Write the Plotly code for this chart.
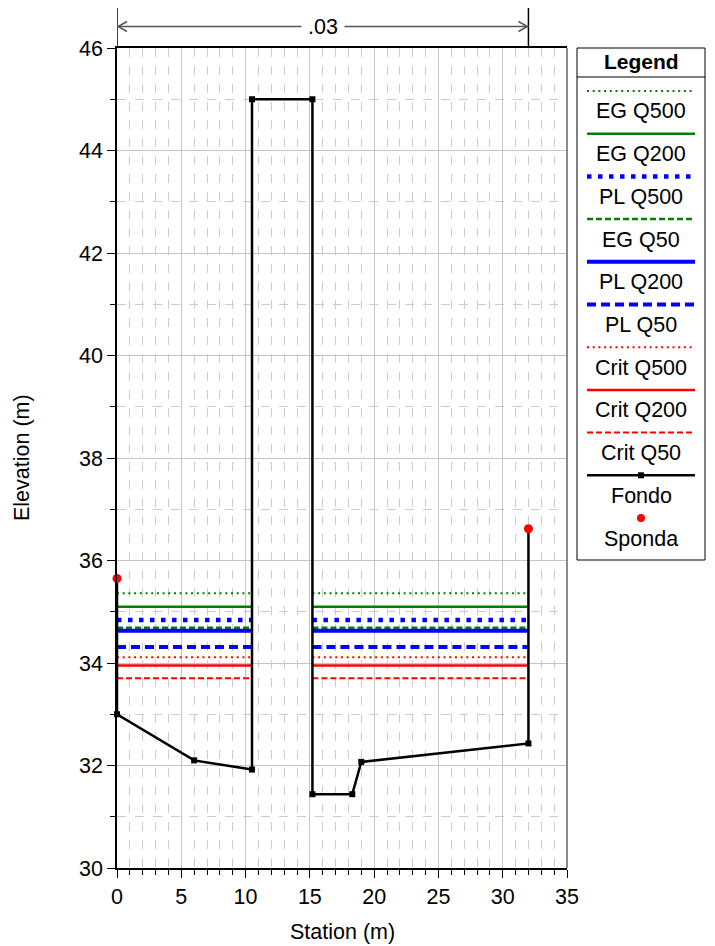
import plotly.graph_objects as go

# ---------------- data ----------------
station_fondo = [0.0, 0.0, 6.0, 10.5, 10.5, 15.2, 15.2, 18.3, 19.0, 32.0, 32.0]
elev_fondo = [35.65, 33.0, 32.1, 31.92, 45.0, 45.0, 31.44, 31.44, 32.07, 32.43, 36.62]

station_sponda = [0.0, 32.0]
elev_sponda = [35.65, 36.62]

flow_left = [0.0, 10.5]
flow_right = [15.2, 32.0]

profile_names = ["EG Q500", "EG Q200", "PL Q500", "EG Q50", "PL Q200",
                 "PL Q50", "Crit Q500", "Crit Q200", "Crit Q50"]
profile_elev = [35.36, 35.10, 34.84, 34.69, 34.63, 34.31, 34.11, 33.95, 33.70]

manning_stations = [0.0, 32.0]
manning_label = ".03"

x_tickvals = [0, 5, 10, 15, 20, 25, 30, 35]
y_tickvals = [30, 32, 34, 36, 38, 40, 42, 44, 46]

# ---------------- styles ----------------
styles = {
    "EG Q500": dict(color="#008000", width=2, dash="2px,3.7px"),
    "EG Q200": dict(color="#008000", width=2.5, dash="solid"),
    "PL Q500": dict(color="#0000ff", width=4.5, dash="4.5px,6.5px"),
    "EG Q50": dict(color="#008000", width=2.5, dash="6px,3px"),
    "PL Q200": dict(color="#0000ff", width=4, dash="solid"),
    "PL Q50": dict(color="#0000ff", width=4, dash="9px,5px"),
    "Crit Q500": dict(color="#ff0000", width=2, dash="2px,3.7px"),
    "Crit Q200": dict(color="#ff0000", width=2.5, dash="solid"),
    "Crit Q50": dict(color="#ff0000", width=2, dash="6px,3px"),
}
FONT = "Liberation Sans, Arial, sans-serif"
FS = 21.5

# page body has an 8px default margin -> figure is placed at (8, 8)
OFF = 8
PAGE_W, PAGE_H = 715, 946
W, H = PAGE_W - OFF, PAGE_H - OFF
L, T = 117 - OFF, 48 - OFF
R, B = PAGE_W - 567, PAGE_H - 868
PW, PH = W - L - R, H - T - B


def px2x(px):
    # px in page coordinates
    return (px - OFF - L) / PW


def py2y(py):
    return (H - B - (py - OFF)) / PH


fig = go.Figure()

for name, lvl in zip(profile_names, profile_elev):
    xs = [flow_left[0], flow_left[1], None, flow_right[0], flow_right[1]]
    ys = [lvl, lvl, None, lvl, lvl]
    fig.add_trace(go.Scatter(x=xs, y=ys, mode="lines", name=name,
                             line=styles[name], showlegend=False,
                             connectgaps=False))

fig.add_trace(go.Scatter(x=station_fondo, y=elev_fondo, mode="lines+markers",
                         name="Fondo", line=dict(color="black", width=2.5),
                         marker=dict(symbol="square", size=6, color="black"),
                         cliponaxis=False, showlegend=False))
fig.add_trace(go.Scatter(x=station_sponda, y=elev_sponda, mode="markers",
                         name="Sponda", marker=dict(size=9, color="#ff0000"),
                         cliponaxis=False, showlegend=False))

shapes = []
annotations = []

# right border (gray)
shapes.append(dict(type="line", xref="paper", yref="paper", x0=1, x1=1, y0=0, y1=1,
                   line=dict(color="#666666", width=1.5)))

# ---- Manning's n annotation ----
y_arrow = py2y(26.5)
for s in manning_stations:
    shapes.append(dict(type="line", xref="x", yref="paper", x0=s, x1=s,
                       y0=1, y1=py2y(5), line=dict(color="black", width=1.5)))
shapes.append(dict(type="line", xref="x", yref="paper", x0=manning_stations[0],
                   x1=manning_stations[-1], y0=y_arrow, y1=y_arrow,
                   line=dict(color="#555555", width=1.5)))
shapes.append(dict(type="path", xref="x", yref="paper", xsizemode="pixel",
                   ysizemode="pixel", xanchor=manning_stations[0], yanchor=y_arrow,
                   path="M 10 5 L 1 0 L 10 -5", line=dict(color="#555555", width=1.5)))
shapes.append(dict(type="path", xref="x", yref="paper", xsizemode="pixel",
                   ysizemode="pixel", xanchor=manning_stations[-1], yanchor=y_arrow,
                   path="M -10 5 L -1 0 L -10 -5", line=dict(color="#555555", width=1.5)))
annotations.append(dict(xref="x", yref="paper",
                        x=(manning_stations[0] + manning_stations[-1]) / 2,
                        y=y_arrow, text=manning_label, showarrow=False,
                        bgcolor="white", borderpad=6,
                        font=dict(family=FONT, size=FS, color="black"),
                        xanchor="center", yanchor="middle"))

# ---- custom legend ----
lx0, lx1 = px2x(577), px2x(705)
shapes.append(dict(type="rect", xref="paper", yref="paper", x0=lx0, x1=lx1,
                   y0=py2y(560), y1=py2y(48), line=dict(color="black", width=1),
                   fillcolor="white", layer="above"))
shapes.append(dict(type="line", xref="paper", yref="paper", x0=lx0, x1=lx1,
                   y0=py2y(77), y1=py2y(77), line=dict(color="black", width=1)))
annotations.append(dict(xref="paper", yref="paper", x=px2x(641), y=py2y(61),
                        text="<b>Legend</b>", showarrow=False,
                        font=dict(family=FONT, size=FS - 0.5, color="black"),
                        xanchor="center", yanchor="middle"))

legend_names = profile_names + ["Fondo", "Sponda"]
sx0, sx1, sxc = px2x(587), px2x(695), px2x(641)
for i, name in enumerate(legend_names):
    ly = py2y(91 + 42.7 * i)
    ty = py2y(111.5 + 42.7 * i)
    if name in styles:
        shapes.append(dict(type="line", xref="paper", yref="paper", x0=sx0, x1=sx1,
                           y0=ly, y1=ly, line=styles[name], layer="above"))
    elif name == "Fondo":
        shapes.append(dict(type="line", xref="paper", yref="paper", x0=sx0, x1=sx1,
                           y0=ly, y1=ly, line=dict(color="black", width=2.5),
                           layer="above"))
        shapes.append(dict(type="rect", xref="paper", yref="paper", xsizemode="pixel",
                           ysizemode="pixel", xanchor=sxc, yanchor=ly,
                           x0=-3, x1=3, y0=-3, y1=3, fillcolor="black",
                           line=dict(color="black", width=0), layer="above"))
    else:
        shapes.append(dict(type="circle", xref="paper", yref="paper", xsizemode="pixel",
                           ysizemode="pixel", xanchor=sxc, yanchor=ly,
                           x0=-4, x1=4, y0=-4, y1=4, fillcolor="#ff0000",
                           line=dict(color="#ff0000", width=0), layer="above"))
    annotations.append(dict(xref="paper", yref="paper", x=sxc, y=ty, text=name,
                            showarrow=False, font=dict(family=FONT, size=FS, color="black"),
                            xanchor="center", yanchor="middle"))

# ---- axis titles ----
annotations.append(dict(xref="paper", yref="paper", x=0.5, y=py2y(932),
                        text="Station (m)", showarrow=False,
                        font=dict(family=FONT, size=FS, color="black"),
                        xanchor="center", yanchor="middle"))
annotations.append(dict(xref="paper", yref="paper", x=px2x(22), y=0.5,
                        text="Elevation (m)", showarrow=False, textangle=-90,
                        font=dict(family=FONT, size=FS, color="black"),
                        xanchor="center", yanchor="middle"))

axis_common = dict(showline=True, linecolor="black", linewidth=1.5, ticks="outside",
                   tickcolor="black", ticklen=8, tickwidth=1,
                   showgrid=True, gridcolor="#c4c4c4", gridwidth=1, zeroline=False,
                   tickfont=dict(family=FONT, size=FS, color="black"))

fig.update_layout(
    width=W, height=H,
    margin=dict(l=L, r=R, t=T, b=B, autoexpand=False),
    paper_bgcolor="white", plot_bgcolor="white",
    showlegend=False,
    xaxis=dict(range=[0, 35], tickvals=x_tickvals, mirror=True,
               minor=dict(dtick=1, ticks="outside", ticklen=5, tickcolor="black",
                          showgrid=True, gridcolor="#cccccc", griddash="dash"),
               **axis_common),
    yaxis=dict(range=[30, 46], tickvals=y_tickvals, mirror=False,
               minor=dict(dtick=1, ticks="outside", ticklen=5, tickcolor="black",
                          showgrid=True, gridcolor="#cccccc", griddash="dash"),
               **axis_common),
    shapes=shapes,
    annotations=annotations,
    font=dict(family=FONT),
)

fig.write_html("out.html")
